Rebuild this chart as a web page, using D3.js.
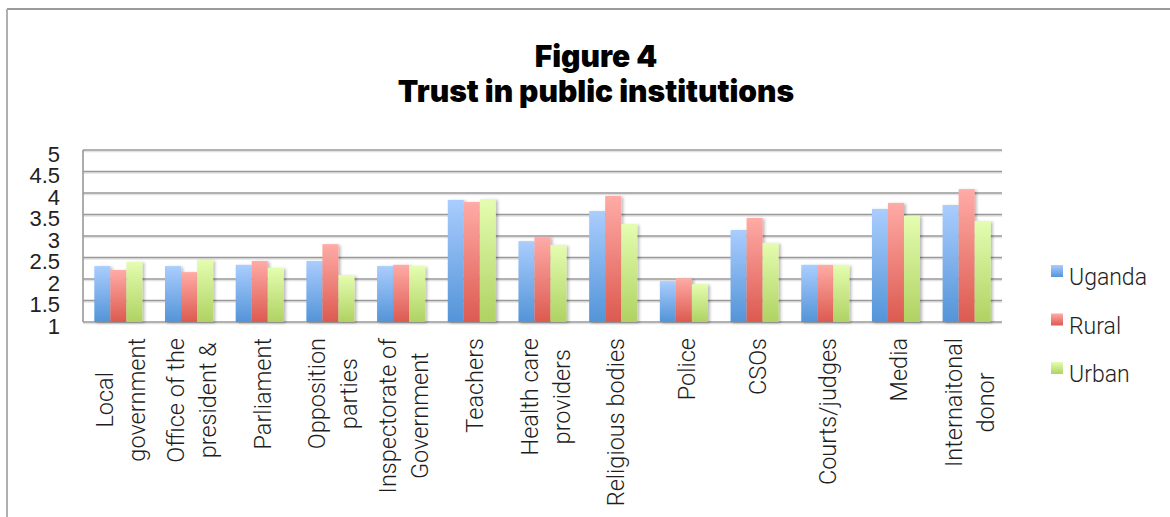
<!DOCTYPE html>
<html>
<head>
<meta charset="utf-8">
<title>Figure 4 - Trust in public institutions</title>
<script src="https://d3js.org/d3.v7.min.js"></script>
<style>
  body { margin: 0; background: #fff; }
  svg { display: block; }
  .title { font-family: Inter, Roboto, sans-serif; font-weight: 900; font-size: 30px; fill: #000; text-anchor: middle; }
  .ylab { font-family: "Liberation Sans", Arial, sans-serif; font-size: 22px; fill: #222; text-anchor: end; }
  .xlab { font-family: Roboto, "Liberation Sans", sans-serif; font-weight: 300; font-size: 23.5px; fill: #1e1e1e; text-anchor: middle; }
  .legend text { font-family: Roboto, "Liberation Sans", sans-serif; font-weight: 300; font-size: 23px; fill: #1e1e1e; }
</style>
</head>
<body>
<svg id="chart"></svg>
<script>
// data
var categories = [
  ["Local", "government"],
  ["Office of the", "president &"],
  ["Parliament"],
  ["Opposition", "parties"],
  ["Inspectorate of", "Government"],
  ["Teachers"],
  ["Health care", "providers"],
  ["Religious bodies"],
  ["Police"],
  ["CSOs"],
  ["Courts/judges"],
  ["Media"],
  ["Internaitonal", "donor"]
];
var seriesNames = ["Uganda", "Rural", "Urban"];
var uganda = [2.30, 2.30, 2.33, 2.42, 2.30, 3.84, 2.88, 3.58, 1.95, 3.14, 2.33, 3.63, 3.72];
var rural  = [2.21, 2.16, 2.42, 2.81, 2.33, 3.79, 2.98, 3.93, 2.02, 3.42, 2.33, 3.77, 4.09];
var urban  = [2.40, 2.44, 2.26, 2.09, 2.30, 3.86, 2.79, 3.28, 1.88, 2.84, 2.33, 3.47, 3.35];
var yTicks = [1, 1.5, 2, 2.5, 3, 3.5, 4, 4.5, 5];

var width = 1170, height = 517;
var plot = {left: 83, right: 1002, top: 150, bottom: 322};

var svg = d3.select("#chart").attr("width", width).attr("height", height);

// gradients, top light -> bottom dark
var colors = [
  {top: "#aacdfe", bottom: "#5394d8"},
  {top: "#ffaba6", bottom: "#dc5a50"},
  {top: "#e4fdb0", bottom: "#afd262"}
];
var defs = svg.append("defs");
colors.forEach(function(c, i) {
  var g = defs.append("linearGradient").attr("id", "grad" + i)
    .attr("x1", 0).attr("y1", 0).attr("x2", 0).attr("y2", 1);
  g.append("stop").attr("offset", "0%").attr("stop-color", c.top);
  g.append("stop").attr("offset", "100%").attr("stop-color", c.bottom);
});
var shadow = defs.append("filter").attr("id", "shadow")
  .attr("x", "-30%").attr("y", "-10%").attr("width", "160%").attr("height", "130%");
shadow.append("feDropShadow").attr("dx", 2).attr("dy", 1).attr("stdDeviation", 1.8)
  .attr("flood-color", "#000").attr("flood-opacity", 0.28);

// outer chart border (only top and left visible)
svg.append("line").attr("x1", 7).attr("x2", width).attr("y1", 9).attr("y2", 9)
  .attr("stroke", "#9a9a9a").attr("stroke-width", 2);
svg.append("line").attr("x1", 7).attr("x2", 7).attr("y1", 9).attr("y2", height)
  .attr("stroke", "#b0b0b0").attr("stroke-width", 2);

// title
svg.append("text").attr("class", "title").attr("x", 596).attr("y", 67).text("Figure 4");
svg.append("text").attr("class", "title").attr("x", 596).attr("y", 102).text("Trust in public institutions");

// scales
var x0 = d3.scaleBand()
  .domain(d3.range(categories.length))
  .range([plot.left, plot.right])
  .paddingInner(0.32).paddingOuter(0.16);
var x1 = d3.scaleBand().domain(d3.range(seriesNames.length)).range([0, x0.bandwidth()]);
var y = d3.scaleLinear().domain([1, 5]).range([plot.bottom, plot.top]);

// gridlines with light shadow
var grid = svg.append("g");
grid.selectAll("line.sh").data(yTicks).enter().append("line")
  .attr("x1", plot.left).attr("x2", plot.right)
  .attr("y1", function(d) { return y(d) + 1.6; }).attr("y2", function(d) { return y(d) + 1.6; })
  .attr("stroke", "#e2e2e2").attr("stroke-width", 1.5);
grid.selectAll("line.gl").data(yTicks).enter().append("line")
  .attr("x1", plot.left).attr("x2", plot.right)
  .attr("y1", function(d) { return y(d); }).attr("y2", function(d) { return y(d); })
  .attr("stroke", "#999").attr("stroke-width", 1.6);
svg.append("line").attr("x1", plot.left).attr("x2", plot.left)
  .attr("y1", plot.top).attr("y2", plot.bottom)
  .attr("stroke", "#999").attr("stroke-width", 1.6);

// y axis labels via d3 axis
var yAxis = svg.append("g").attr("transform", "translate(" + (plot.left - 23) + ",0)")
  .call(d3.axisLeft(y).tickValues(yTicks).tickSize(0).tickPadding(0).tickFormat(function(d) { return String(d); }));
yAxis.select(".domain").remove();
yAxis.selectAll("text").attr("class", "ylab").attr("x", 0).attr("dy", "0.5em");

// bars
var rows = categories.map(function(c, i) { return [uganda[i], rural[i], urban[i]]; });
var groups = svg.append("g").selectAll("g").data(rows).enter().append("g")
  .attr("transform", function(d, i) { return "translate(" + x0(i) + ",0)"; });
groups.selectAll("rect").data(function(d) { return d; }).enter().append("rect")
  .attr("x", function(d, j) { return x1(j); })
  .attr("width", x1.bandwidth())
  .attr("y", function(d) { return y(d); })
  .attr("height", function(d) { return y(1) - y(d); })
  .attr("fill", function(d, j) { return "url(#grad" + j + ")"; })
  .attr("filter", "url(#shadow)");

// x labels, rotated, lines centred on each other, block hung from the axis
var labelTop = 338, lineGap = 32;
categories.forEach(function(lines, i) {
  var cx = x0(i) + x0.bandwidth() / 2;
  var texts = lines.map(function(t, j) {
    return svg.append("text").attr("class", "xlab").text(t);
  });
  var maxLen = d3.max(texts, function(t) { return t.node().getComputedTextLength(); });
  var yc = labelTop + maxLen / 2;
  texts.forEach(function(t, j) {
    var bx = cx - (lines.length - 1) * lineGap / 2 + 11 + j * lineGap;
    t.attr("transform", "translate(" + bx + "," + yc + ") rotate(-90)");
  });
});

// legend
var legend = svg.append("g").attr("class", "legend");
seriesNames.forEach(function(name, j) {
  var ly = 265 + j * 48.5;
  legend.append("rect").attr("x", 1051).attr("y", ly).attr("width", 12).attr("height", 12)
    .attr("fill", "url(#grad" + j + ")");
  legend.append("text").attr("x", 1069).attr("y", ly + 20).text(name);
});
</script>
</body>
</html>
